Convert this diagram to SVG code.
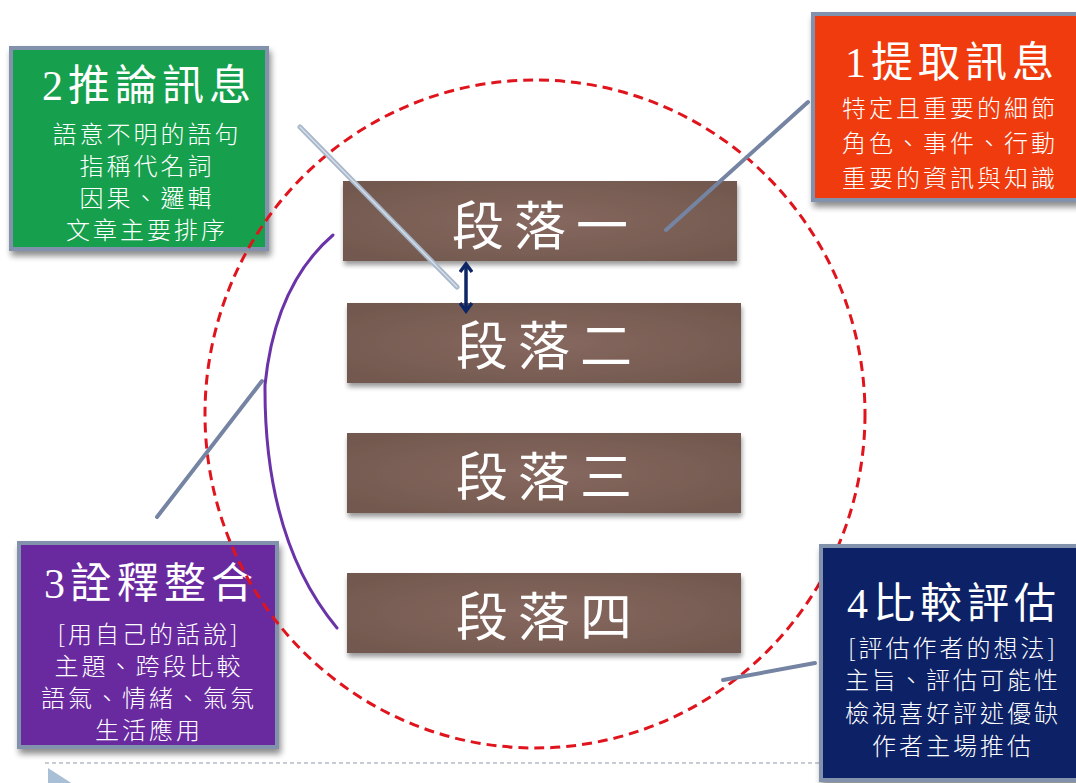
<svg xmlns="http://www.w3.org/2000/svg" width="1076" height="783" viewBox="0 0 1076 783">
<defs>
<style>
.box{stroke:#8292ad;stroke-width:4;filter:url(#sh)}
.para{filter:url(#sh2)}
.title{font-family:"Liberation Serif","Noto Sans CJK TC",serif;font-size:42px;fill:#ffffff;text-anchor:middle;letter-spacing:5px}
.body{font-family:"Noto Sans CJK TC","Noto Sans",sans-serif;font-weight:300;font-size:24px;fill:#ffffff;text-anchor:middle;letter-spacing:3px}
.plabel{font-family:"Liberation Serif","Noto Sans CJK TC",serif;font-size:52px;fill:#ffffff;text-anchor:middle;letter-spacing:10px}
.conn{stroke:#7584a2;stroke-width:4;stroke-linecap:round;fill:none}
</style>
<filter id="sh" x="-10%" y="-10%" width="125%" height="130%">
<feGaussianBlur in="SourceAlpha" stdDeviation="3"/>
<feOffset dx="2" dy="5" result="b"/>
<feComponentTransfer><feFuncA type="linear" slope="0.45"/></feComponentTransfer>
<feMerge><feMergeNode/><feMergeNode in="SourceGraphic"/></feMerge>
</filter>
<filter id="sh2" x="-5%" y="-10%" width="110%" height="135%">
<feGaussianBlur in="SourceAlpha" stdDeviation="2.5"/>
<feOffset dx="1" dy="4" result="b"/>
<feComponentTransfer><feFuncA type="linear" slope="0.4"/></feComponentTransfer>
<feMerge><feMergeNode/><feMergeNode in="SourceGraphic"/></feMerge>
</filter>
<radialGradient id="brown" cx="50%" cy="50%" r="60%">
<stop offset="0" stop-color="#86685f"/>
<stop offset="1" stop-color="#73594f"/>
</radialGradient>
<marker id="chev" viewBox="0 0 14 14" refX="11" refY="7" markerWidth="14" markerHeight="14" markerUnits="userSpaceOnUse" orient="auto-start-reverse">
<path d="M3,1 L11,7 L3,13" fill="none" stroke="#0d2766" stroke-width="3.5" stroke-linejoin="miter"/>
</marker>
</defs>
<rect width="1076" height="783" fill="#ffffff"/>

<g id="footer">
<line x1="45" y1="763" x2="820" y2="763" stroke="#b4bcc6" stroke-width="1.5" stroke-dasharray="4 3"/>
<polygon points="48,768 76,786 48,804" fill="#a9bfd6"/>
</g>

<g id="node-2">
<rect class="box" x="11" y="48" width="256" height="201" fill="#12a04e"/>
<text class="title" x="149" y="100">2推論訊息</text>
<text class="body" x="147" y="143">語意不明的語句</text>
<text class="body" x="147" y="175">指稱代名詞</text>
<text class="body" x="147" y="207">因果、邏輯</text>
<text class="body" x="147" y="239">文章主要排序</text>
</g>

<g id="node-3">
<rect class="box" x="19" y="543" width="258" height="204" fill="#6a2c9f"/>
<text class="title" x="151" y="598">3詮釋整合</text>
<text class="body" x="149" y="643">[用自己的話說]</text>
<text class="body" x="149" y="675">主題、跨段比較</text>
<text class="body" x="149" y="707">語氣、情緒、氣氛</text>
<text class="body" x="149" y="739">生活應用</text>
</g>

<g id="circle">
<ellipse cx="535" cy="414" rx="330" ry="334" fill="none" stroke="#e0141c" stroke-width="3" stroke-dasharray="10 6"/>
</g>

<g id="p1" class="para">
<rect x="343" y="181" width="394" height="80" fill="url(#brown)"/>
<text class="plabel" x="545" y="245">段落一</text>
</g>
<g id="p2" class="para">
<rect x="347" y="303" width="394" height="80" fill="url(#brown)"/>
<text class="plabel" x="549" y="365">段落二</text>
</g>
<g id="p3" class="para">
<rect x="347" y="433" width="394" height="80" fill="url(#brown)"/>
<text class="plabel" x="549" y="496">段落三</text>
</g>
<g id="p4" class="para">
<rect x="347" y="573" width="394" height="80" fill="url(#brown)"/>
<text class="plabel" x="549" y="636">段落四</text>
</g>

<g id="node-1">
<rect class="box" x="813" y="14" width="265" height="186" fill="#ef3b0f"/>
<text class="title" x="952" y="77">1提取訊息</text>
<text class="body" x="950" y="117">特定且重要的細節</text>
<text class="body" x="950" y="152">角色、事件、行動</text>
<text class="body" x="950" y="187">重要的資訊與知識</text>
</g>

<g id="node-4">
<rect class="box" x="821" y="546" width="257" height="234" fill="#0d2466"/>
<text class="title" x="954" y="618">4比較評估</text>
<text class="body" x="953" y="657">[評估作者的想法]</text>
<text class="body" x="953" y="689">主旨、評估可能性</text>
<text class="body" x="953" y="722">檢視喜好評述優缺</text>
<text class="body" x="953" y="755">作者主場推估</text>
</g>

<g id="connectors">
<line x1="300" y1="127" x2="457" y2="287" stroke="#a8b7ca" stroke-width="5" stroke-linecap="round"/>
<line x1="300" y1="127" x2="457" y2="287" stroke="#d6dee8" stroke-width="1.5" stroke-linecap="round"/>
<line class="conn" x1="808" y1="102" x2="666" y2="230"/>
<line class="conn" x1="815" y1="663" x2="723" y2="680"/>
<line class="conn" x1="262" y1="381" x2="157" y2="517"/>
<path d="M333,235 Q275,285 265,385 Q264,540 337,628" fill="none" stroke="#6a33a8" stroke-width="3" stroke-linecap="round"/>
<line x1="466" y1="264" x2="466" y2="311" stroke="#0d2766" stroke-width="3.5" marker-start="url(#chev)" marker-end="url(#chev)"/>
</g>
</svg>
